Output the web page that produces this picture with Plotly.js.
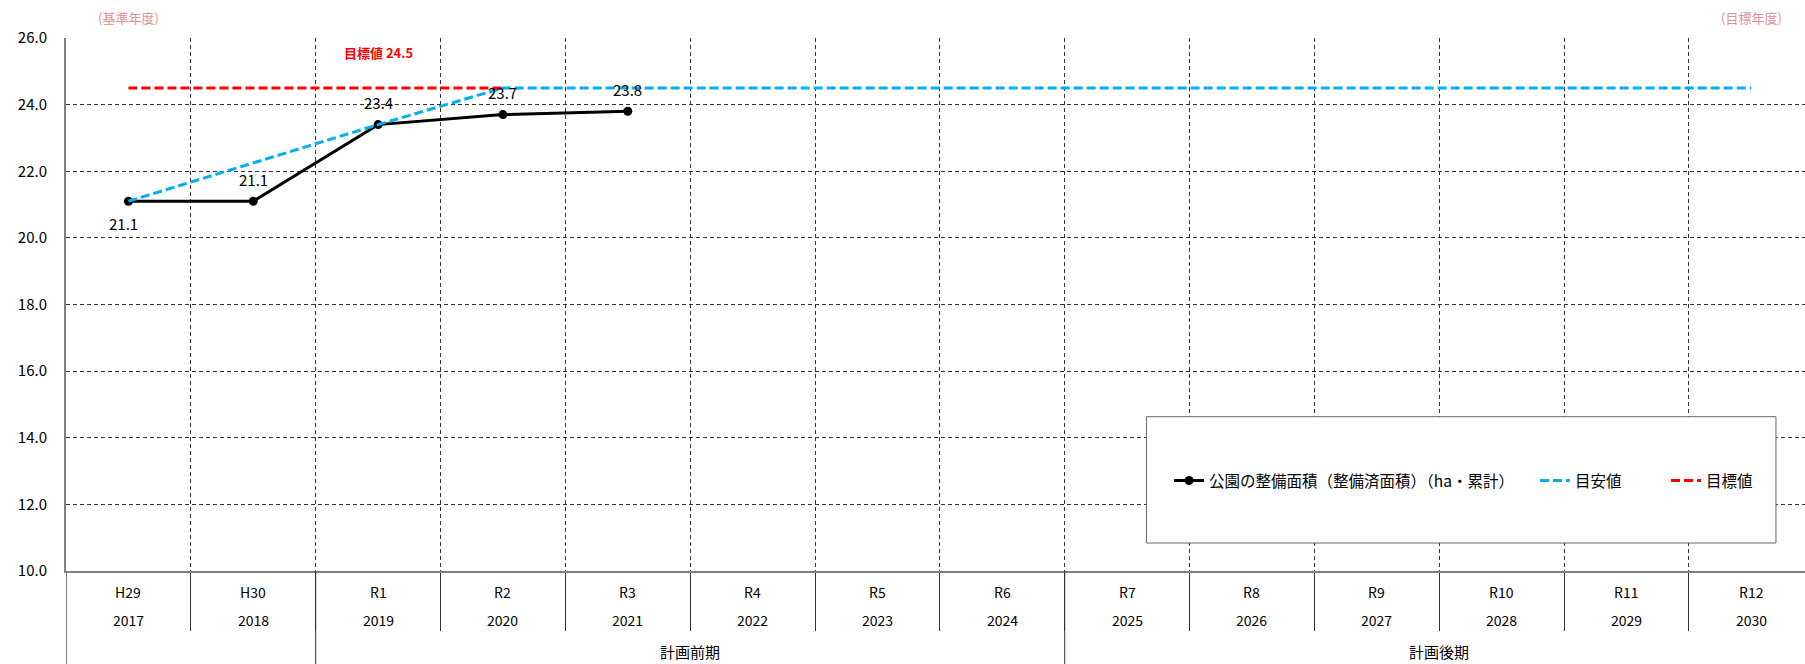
<!DOCTYPE html>
<html><head><meta charset="utf-8">
<script src="https://cdn.plot.ly/plotly-3.0.1.min.js"></script>
<style>html,body{margin:0;padding:0;background:#fff}#chart{width:1805px;height:664px}</style>
</head><body><div id="chart"></div>
<script>
// ---- data ----
const wareki = ['H29','H30','R1','R2','R3','R4','R5','R6','R7','R8','R9','R10','R11','R12'];
const years  = ['2017','2018','2019','2020','2021','2022','2023','2024','2025','2026','2027','2028','2029','2030'];
const actual = [21.1, 21.1, 23.4, 23.7, 23.8, null, null, null, null, null, null, null, null, null];
const guide  = [21.1, null, 23.4, 24.5, 24.5, 24.5, 24.5, 24.5, 24.5, 24.5, 24.5, 24.5, 24.5, 24.5];
const target = [24.5, 24.5, 24.5, 24.5, null, null, null, null, null, null, null, null, null, null];
const actualName = '公園の整備面積（整備済面積）（ha・累計）';
const guideName = '目安値';
const targetName = '目標値';
const targetValue = 24.5;
const periodLabels = ['計画前期', '計画後期'];
const periodFirst = ['R1', 'R7'];
const periodLast  = ['R6', 'R12'];
const baseYearText = '(基準年度)';
const goalYearText = '(目標年度)';

const FONT = 'Noto Sans CJK JP';

const traces = [
  {type:'scatter', mode:'lines+markers', name: actualName, x: wareki, y: actual, legend:'legend',
   line:{color:'#000', width:3}, marker:{color:'#000', size:9}},
  {type:'scatter', mode:'lines', name: guideName, x: wareki, y: guide, connectgaps:true, legend:'legend2',
   line:{color:'#00B0F0', width:3, dash:'9px,4px'}},
  {type:'scatter', mode:'lines', name: targetName, x: wareki, y: target, legend:'legend3',
   line:{color:'#FF0000', width:3, dash:'9px,4px'}}
];

const idx = c => wareki.indexOf(c);
const annotations = [];
// data labels for the actual series
actual.forEach((v, i) => {
  if (v == null) return;
  const below = i === 0;
  annotations.push({x: wareki[i], xref:'x', y: v, yref:'y', text: v.toFixed(1), showarrow:false,
    yanchor:'middle', yshift: below ? -22 : 22, xshift: below ? -5 : 0,
    font:{family:FONT, size:15, color:'#000'}});
});
wareki.forEach((w, i) => {
  annotations.push({x: w, xref:'x', y:-0.0394, yref:'paper', text: w, showarrow:false, yanchor:'middle',
    font:{family:FONT, size:14, color:'#000'}});
  annotations.push({x: w, xref:'x', y:-0.0919, yref:'paper', text: years[i], showarrow:false, yanchor:'middle',
    font:{family:FONT, size:14, color:'#000'}});
});
periodLabels.forEach((p, k) => {
  annotations.push({x: (idx(periodFirst[k]) + idx(periodLast[k])) / 2, xref:'x', y:-0.151, yref:'paper',
    text: p, showarrow:false, yanchor:'middle', font:{family:FONT, size:15, color:'#000'}});
});
annotations.push({x: wareki[0], xref:'x', y:1.039, yref:'paper', text: baseYearText, showarrow:false,
  yanchor:'middle', font:{family:FONT, size:13, color:'#E09090'}});
annotations.push({x: wareki[wareki.length-1], xref:'x', y:1.039, yref:'paper', text: goalYearText, showarrow:false,
  yanchor:'middle', font:{family:FONT, size:13, color:'#E09090'}});
annotations.push({x: 'R1', xref:'x', y: 25.55, yref:'y', text: '<b>' + targetName + ' ' + targetValue.toFixed(1) + '</b>',
  showarrow:false, yanchor:'middle', font:{family:FONT, size:13, color:'#FF0000'}});

const shapes = [];
[-0.5, idx(periodFirst[0]) - 0.5, idx(periodFirst[1]) - 0.5].forEach((b, k) => {
  shapes.push({type:'line', xref:'x', yref:'paper', x0:b, x1:b, y0:0, y1:-0.18,
    line:{color: k === 0 ? '#808080' : '#333', width: k === 0 ? 2 : 1}});
});
shapes.push({type:'rect', xref:'paper', yref:'paper', x0:0.6213, x1:0.9833, y0:0.0525, y1:0.2895,
  fillcolor:'#fff', line:{color:'#666', width:1}, layer:'above'});

const legBase = {orientation:'h', xanchor:'left', y:0.169, yanchor:'middle',
  bgcolor:'rgba(0,0,0,0)', borderwidth:0, font:{family:FONT, size:15.5, color:'#000'}};

const layout = {
  width:1805, height:664,
  margin:{l:66, r:0, t:38, b:93},
  paper_bgcolor:'#fff', plot_bgcolor:'#fff',
  font:{family:FONT, size:14, color:'#000'},
  showlegend:true,
  legend: Object.assign({}, legBase, {x:0.6343}),
  legend2: Object.assign({}, legBase, {x:0.8447}),
  legend3: Object.assign({}, legBase, {x:0.9201}),
  xaxis:{type:'category', categoryorder:'array', categoryarray: wareki, range:[-0.5, 13.43],
    tickson:'boundaries', ticks:'outside', ticklen:58, tickcolor:'#333', tickwidth:1,
    showticklabels:false, showgrid:true, gridcolor:'#333', griddash:'4px,3px', gridwidth:1,
    showline:true, linecolor:'#808080', linewidth:2, zeroline:false, fixedrange:true},
  yaxis:{range:[10, 26], dtick:2, tick0:10, tickformat:'.1f', showgrid:true, gridcolor:'#333',
    griddash:'4px,3px', gridwidth:1, showline:true, linecolor:'#808080', linewidth:2, zeroline:false,
    ticks:'outside', ticklen:14, tickcolor:'rgba(0,0,0,0)', tickfont:{family:FONT, size:15, color:'#000'}},
  annotations, shapes
};
Plotly.newPlot('chart', traces, layout, {displayModeBar:false, staticPlot:true});
</script></body></html>
